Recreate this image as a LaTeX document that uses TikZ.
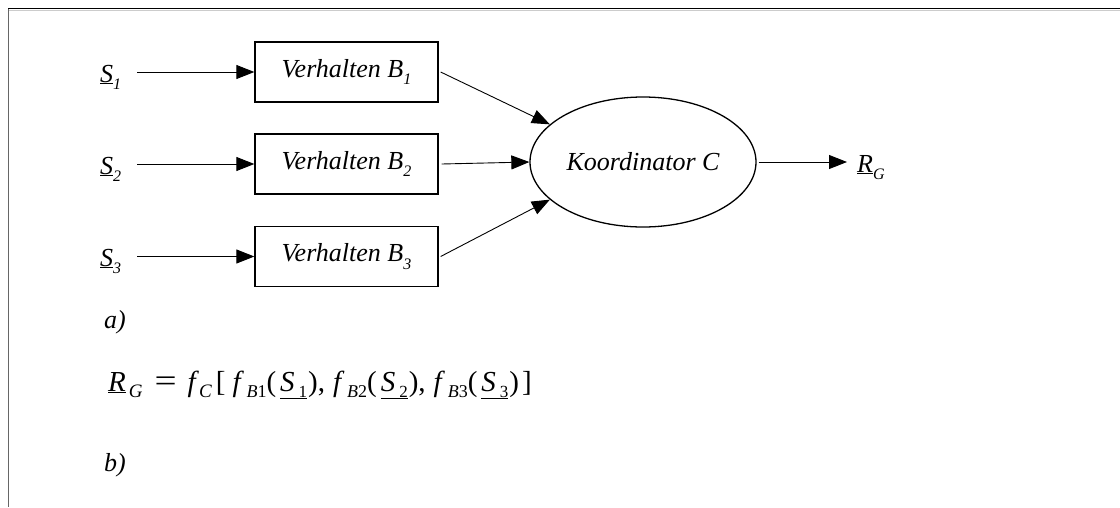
\documentclass[tikz,border=0pt]{standalone}
\usepackage{fontspec}
\usepackage{graphicx}
\setmainfont{Liberation Serif}
\usetikzlibrary{arrows.meta,shapes.geometric}
\newcommand{\lowsub}[1]{\raisebox{-0.28em}{\fontsize{16}{16}\selectfont #1}}
% subscripts of the formula
\newcommand{\eqsubL}[1]{\raisebox{-6pt}{\fontsize{19}{19}\selectfont #1}}
\newcommand{\eqsubB}[1]{\raisebox{-6pt}{\fontsize{18}{18}\selectfont\textit{B}\upshape #1}}
\newcommand{\eqsubD}[1]{\raisebox{-6pt}{\fontsize{17}{17}\selectfont\upshape #1}}
% one term f_{Bn}(S_n) of the formula
\newcommand{\fterm}[1]{\textit{f}\hspace{6pt}\eqsubB{#1}{\upshape(}\hspace{4pt}\underline{\textit{S}\hspace{4pt}\eqsubD{#1}}\hspace{1pt}{\upshape)}}
\tikzset{
  txt/.style={font=\fontsize{26}{30}\selectfont\itshape, inner sep=0pt},
  eqtxt/.style={font=\fontsize{29}{33}\selectfont\itshape, inner sep=0pt},
  behav/.style={draw, line width=1.3pt, minimum width=183pt, minimum height=60pt,
    font=\fontsize{26}{30}\selectfont\itshape, inner sep=0pt},
  coord/.style={draw, ellipse, line width=1.3pt, minimum width=226pt, minimum height=130pt,
    font=\fontsize{26}{30}\selectfont\itshape, inner sep=0pt},
  flow/.style={line width=0.9pt, -{Triangle[length=18pt,width=14pt]}}
}
\begin{document}
\begin{tikzpicture}[x=1pt,y=-1pt]
\useasboundingbox (0,0) rectangle (1120,507);
% page frame
\draw[line width=1.2pt] (8,8.5) -- (1120,8.5);
\draw[line width=0.8pt, black!20] (9,10) -- (1120,10);
\draw[line width=1.2pt, black!60] (8.5,8.5) -- (8.5,507);

% inputs
\node[txt, anchor=base west] (s1) at (100,82) {\underline{S}\lowsub{1}};
\node[txt, anchor=base west] (s2) at (100,174) {\underline{S}\lowsub{2}};
\node[txt, anchor=base west] (s3) at (100,266) {\underline{S}\lowsub{3}};

% behaviours
\node[behav] (b1) at (346.5,72) {Verhalten B\lowsub{1}};
\node[behav] (b2) at (346.5,164) {Verhalten B\lowsub{2}};
\node[behav] (b3) at (346.5,256.5) {Verhalten B\lowsub{3}};

% coordinator and output
\node[coord] (c) at (643,162) {Koordinator C};
\node[txt, anchor=base west] (rg) at (857,172) {\underline{R}\lowsub{G}};

\draw[flow] (137,72) -- (b1.west);
\draw[flow] (137,164) -- (b2.west);
\draw[flow] (137,256.5) -- (b3.west);
\draw[flow] ([xshift=2pt]b1.east) -- (c.158);
\draw[flow] ([xshift=3pt]b2.east) -- (c.west);
\draw[flow] ([xshift=2pt]b3.east) -- (c.202);
\draw[flow] ([xshift=2pt]c.east) -- ([xshift=-10pt]rg.west |- c.east);

% captions and formula
\node[txt, anchor=base west] (la) at (104,328) {a)};
\node[eqtxt, anchor=base west] (eq) at (108,391)
  {\underline{R}\hspace{3pt}\eqsubL{\textit{G}}\hspace{12pt}{\upshape\scalebox{1.35}[1.1]{=}}\hspace{11pt}\textit{f}\hspace{3.4pt}\eqsubL{\textit{C}}\hspace{4pt}{\upshape[}\hspace{7pt}\fterm{1}{\upshape,}\hspace{8pt}\fterm{2}{\upshape,}\hspace{8pt}\fterm{3}\hspace{3pt}{\upshape]}};
\node[txt, anchor=base west] (lb) at (104,471) {b)};
\end{tikzpicture}
\end{document}
